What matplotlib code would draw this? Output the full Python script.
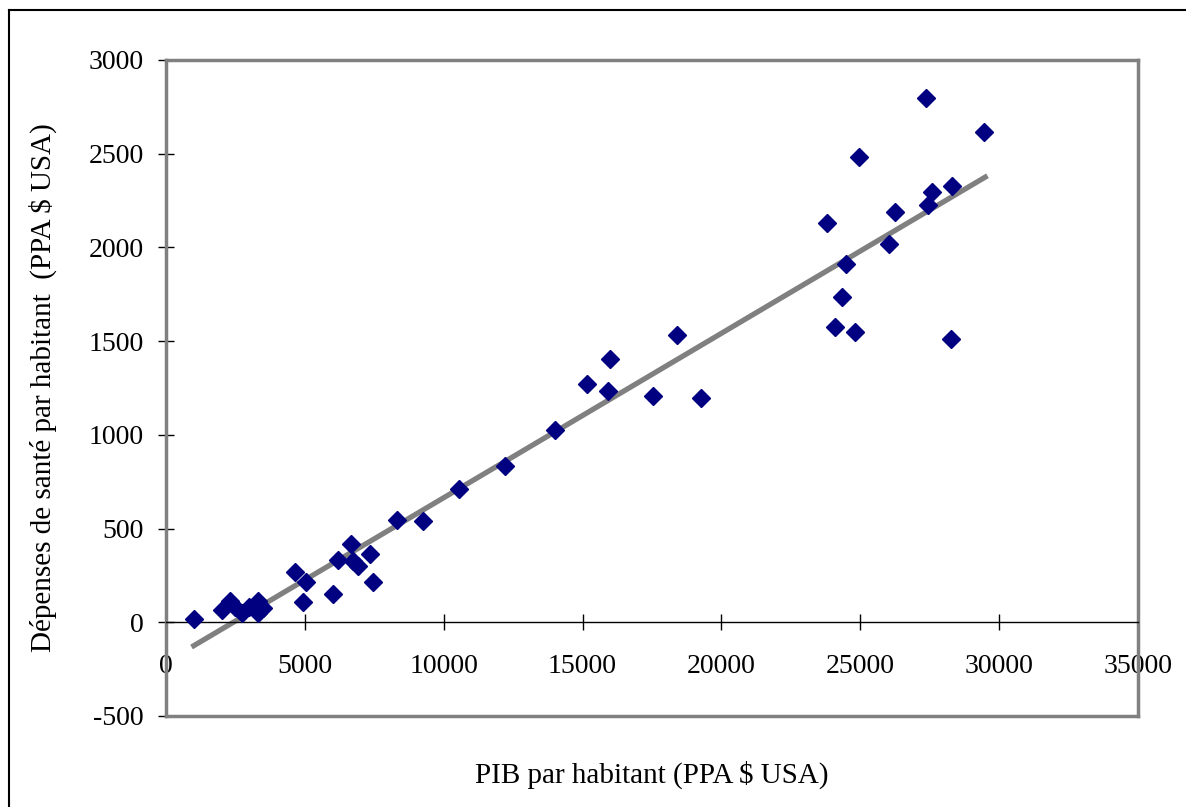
import matplotlib.pyplot as plt
from matplotlib.lines import Line2D

plt.rcParams.update({
    "font.family": ["Liberation Serif", "DejaVu Serif"],
    "font.size": 20,
    "axes.unicode_minus": False,
})

NAVY = "#000080"
GREY = "#808080"

# PIB par habitant (PPA $ USA) / dépenses de santé par habitant
pib = [1000, 2000, 2300, 2500, 2750, 3000, 3300, 3500, 3300,
       4650, 5050, 4950, 6000, 6200, 6650, 6750, 6900, 7350, 7450,
       8300, 9250, 10550, 12200, 14000, 15150, 16000, 15900, 17550,
       18400, 19250,
       23800, 24100, 24350, 24500, 24800, 24950, 26050, 26250,
       27350, 27450, 27600, 28250, 28300, 29450]
sante = [15, 64, 115, 80, 48, 80, 115, 75, 48,
         267, 213, 107, 150, 331, 416, 325, 300, 363, 213,
         548, 540, 710, 833, 1025, 1270, 1404, 1233, 1206,
         1532, 1196,
         2130, 1575, 1735, 1911, 1548, 2482, 2018, 2189,
         2797, 2226, 2295, 1511, 2327, 2616]

# linear trend line (Excel)
trend_x = [1000, 29500]
trend_y = [-125, 2375]

x_ticks = [0, 5000, 10000, 15000, 20000, 25000, 30000, 35000]
y_ticks = [-500, 0, 500, 1000, 1500, 2000, 2500, 3000]

fig = plt.figure(figsize=(11.86, 8.07), dpi=100)
ax = fig.add_axes([0.140, 0.1128, 0.8195, 0.8129])

ax.plot(trend_x, trend_y, color=GREY, lw=3.8, zorder=2)
ax.plot(pib, sante, "D", color=NAVY, ms=8.7, mec=NAVY, zorder=3)

ax.set_xlim(0, 35000)
ax.set_ylim(-500, 3000)
ax.set_xticks(x_ticks)
ax.set_yticks(y_ticks)

# x axis crosses at y = 0
ax.spines["bottom"].set_position(("data", 0))
ax.spines["bottom"].set_color("black")
ax.spines["bottom"].set_linewidth(1)
for s in ["left", "top", "right"]:
    ax.spines[s].set_color(GREY)
    ax.spines[s].set_linewidth(2.5)
ax.plot([0, 1], [0, 0], transform=ax.transAxes, color=GREY, lw=2.5, clip_on=False)

ax.tick_params(axis="x", direction="inout", length=12, width=1, pad=17, labelsize=20)
ax.tick_params(axis="y", direction="inout", length=12, width=1, pad=10, labelsize=20)

ax.set_xlabel("PIB par habitant (PPA $ USA)", fontsize=21)
ax.xaxis.set_label_coords(0.5, -0.068)
ax.set_ylabel("Dépenses de santé par habitant  (PPA $ USA)", fontsize=21)
ax.yaxis.set_label_coords(-0.112, 0.5)

# outer chart frame (top and left edges visible)
fig.add_artist(Line2D([9 / 1186, 9 / 1186], [0, 1 - 10 / 807], color="black", lw=1.5))
fig.add_artist(Line2D([9 / 1186, 1], [1 - 10 / 807, 1 - 10 / 807], color="black", lw=1.5))

fig.savefig("out.png", dpi=100)
